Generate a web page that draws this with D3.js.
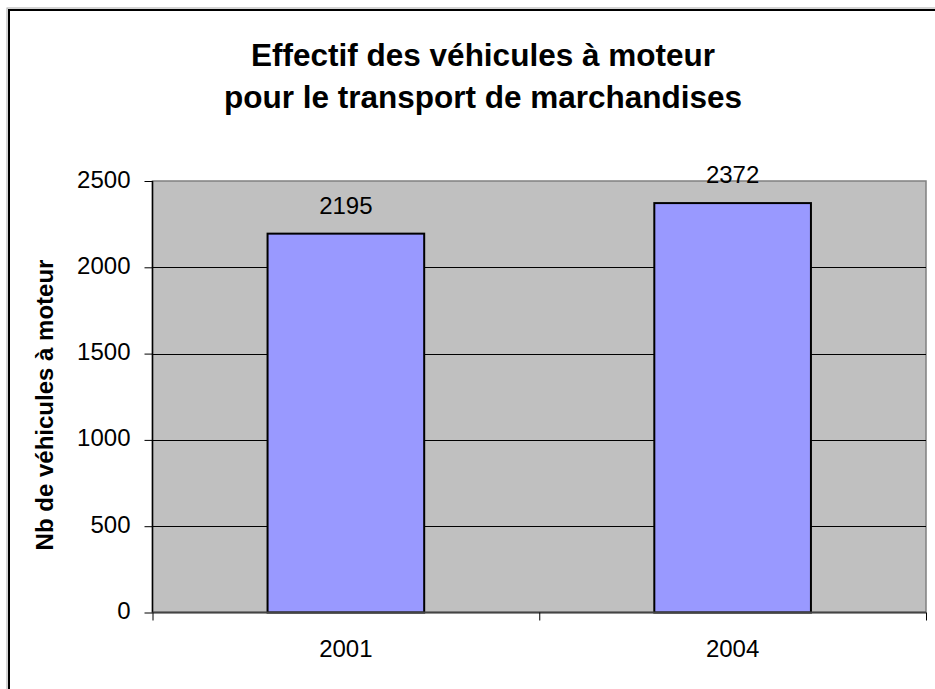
<!DOCTYPE html>
<html><head><meta charset="utf-8">
<script src="https://cdn.jsdelivr.net/npm/d3@7"></script>
<style>body{margin:0;background:#fff}svg{display:block;font-family:"Liberation Sans",Arial,sans-serif}</style>
</head><body>
<script>
const categories = ["2001", "2004"];
const values = [2195, 2372];
const yTicks = [0, 500, 1000, 1500, 2000, 2500];
const titleLines = ["Effectif des véhicules à moteur", "pour le transport de marchandises"];
const yTitle = "Nb de véhicules à moteur";

const W = 935, H = 689;
const svg = d3.select("body").append("svg").attr("width", W).attr("height", H);

// outer frame
svg.append("rect").attr("x", 7).attr("y", 8).attr("width", 1000).attr("height", 1000)
  .attr("fill", "none").attr("stroke", "#aaa").attr("stroke-width", 1);
svg.append("rect").attr("x", 9).attr("y", 10).attr("width", 1000).attr("height", 1000)
  .attr("fill", "#fff").attr("stroke", "#000").attr("stroke-width", 2);

const m = {left: 152.5, right: 926, top: 181, bottom: 612.5};
const x = d3.scaleBand().domain(categories).range([m.left, m.right]).padding(0);
const y = d3.scaleLinear().domain([0, 2500]).range([m.bottom, m.top]);

// plot area
svg.append("rect").attr("x", m.left).attr("y", m.top)
  .attr("width", m.right - m.left).attr("height", m.bottom - m.top)
  .attr("fill", "#c0c0c0").attr("stroke", "#808080").attr("stroke-width", 1.5);

// gridlines
svg.append("g").selectAll("line").data(yTicks.filter(d => d > 0 && d < 2500)).join("line")
  .attr("x1", m.left).attr("x2", m.right)
  .attr("y1", d => Math.round(y(d)) + 0.5).attr("y2", d => Math.round(y(d)) + 0.5)
  .attr("stroke", "#000").attr("stroke-width", 1);

// bars
const bw = x.bandwidth() * 0.405;
svg.append("g").selectAll("rect").data(values).join("rect")
  .attr("x", (d, i) => x(categories[i]) + x.bandwidth() / 2 - bw / 2)
  .attr("y", d => y(d))
  .attr("width", bw)
  .attr("height", d => y(0) - y(d))
  .attr("fill", "#9999ff").attr("stroke", "#000").attr("stroke-width", 2);

// value labels
svg.append("g").selectAll("text").data(values).join("text")
  .attr("x", (d, i) => x(categories[i]) + x.bandwidth() / 2)
  .attr("y", d => y(d) - 20)
  .attr("text-anchor", "middle").attr("font-size", 24).attr("fill", "#000")
  .text(d => d);

// y axis
const yAxis = d3.axisLeft(y).tickValues(yTicks).tickSize(8).tickPadding(14).tickFormat(d3.format("d"));
const gy = svg.append("g").attr("transform", `translate(${m.left},0)`).call(yAxis);
gy.select(".domain").attr("stroke", "#000").attr("stroke-width", 1.5).attr("d", `M0,${m.top}V${m.bottom}`);
gy.selectAll(".tick line").attr("stroke", "#000");
gy.selectAll(".tick text").attr("font-size", 24).attr("font-family", "Liberation Sans, Arial, sans-serif").attr("fill", "#000").attr("dy", "0.25em");

// x axis
const xAxis = d3.axisBottom(d3.scalePoint().domain(["a", "b", "c"]).range([m.left, m.right])).tickSize(8).tickFormat("");
const gx = svg.append("g").attr("transform", `translate(0,${m.bottom})`).call(xAxis);
gx.select(".domain").attr("stroke", "#444").attr("stroke-width", 2).attr("d", `M${m.left},0H${m.right}`);
gx.selectAll(".tick line").attr("stroke", "#000");
svg.append("g").selectAll("text").data(categories).join("text")
  .attr("x", d => x(d) + x.bandwidth() / 2).attr("y", m.bottom + 44)
  .attr("text-anchor", "middle").attr("font-size", 24).attr("fill", "#000").text(d => d);

// title
svg.append("g").selectAll("text").data(titleLines).join("text")
  .attr("x", 483).attr("y", (d, i) => 66 + i * 41.5)
  .attr("text-anchor", "middle").attr("font-size", 31.5).attr("font-weight", "bold").attr("fill", "#000")
  .text(d => d);

// y title
svg.append("text").attr("transform", `translate(53,405) rotate(-90)`)
  .attr("text-anchor", "middle").attr("font-size", 24).attr("font-weight", "bold").attr("fill", "#000")
  .text(yTitle);
</script>
</body></html>
